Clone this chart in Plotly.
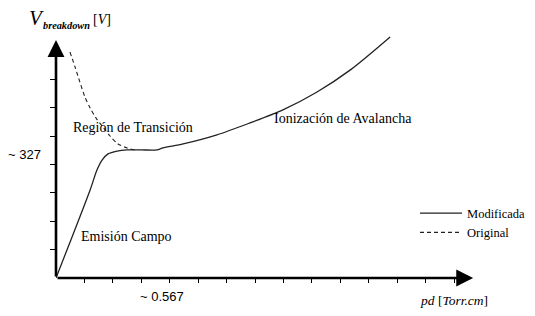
import plotly.graph_objects as go

# Schematic units: one unit = one tick interval on each axis
pd_mod = [0, 1.20, 1.44, 1.62, 1.83, 2.15, 2.50, 3.00, 3.55, 3.76, 4.47, 5.66, 6.82, 7.98, 9.18, 10.34, 11.75]
v_mod = [0, 3.10, 3.80, 4.15, 4.37, 4.47, 4.51, 4.51, 4.51, 4.58, 4.72, 5.04, 5.46, 5.92, 6.55, 7.32, 8.49]

pd_orig = [0.49, 0.67, 0.84, 1.02, 1.20, 1.41, 1.65, 1.90, 2.18, 2.50, 2.78]
v_orig = [7.96, 7.43, 6.90, 6.37, 5.99, 5.63, 5.32, 5.00, 4.72, 4.58, 4.51]

x_ticks = list(range(1, 15))
y_ticks = list(range(1, 8))

SERIF = "Liberation Serif, Times New Roman, serif"
SANS = "Liberation Sans, Arial, sans-serif"

fig = go.Figure()
fig.add_trace(go.Scatter(x=pd_mod, y=v_mod, mode="lines", name="Modificada",
                         line=dict(color="#222", width=1.3, shape="spline", smoothing=0.8)))
fig.add_trace(go.Scatter(x=pd_orig, y=v_orig, mode="lines", name="Original",
                         line=dict(color="#222", width=1.1, dash="4px,3px", shape="spline", smoothing=0.8)))

x_tip, y_tip = 14.67, 8.38
ann = []
# axes arrows
ann.append(dict(x=x_tip, y=0, ax=0, ay=0, xref="x", yref="y", axref="x", ayref="y", text="",
                showarrow=True, arrowhead=2, arrowsize=1.3, arrowwidth=2.6, arrowcolor="black",
                standoff=0, startstandoff=0))
ann.append(dict(x=0, y=y_tip, ax=0, ay=0, xref="x", yref="y", axref="x", ayref="y", text="",
                showarrow=True, arrowhead=2, arrowsize=1.3, arrowwidth=2.6, arrowcolor="black",
                standoff=0, startstandoff=0))

def txt(x, y, s, font, size, xanchor="center", pad=1):
    ann.append(dict(x=x, y=y, xref="paper", yref="paper", text=s, showarrow=False,
                    xanchor=xanchor, yanchor="middle", borderpad=pad,
                    font=dict(family=font, size=size, color="black")))

txt(0.1726, 0.585, "Región de Transición", SERIF, 14)
txt(0.6381, 0.620, "Ionización de Avalancha", SERIF, 14)
txt(0.1570, 0.159, "Emisión Campo", SERIF, 14)
txt(-0.0702, 0.477, "~ 327", SANS, 13)
txt(0.236, -0.0698, "~ 0.567", SANS, 13)
txt(0.886, -0.0853, "<i>pd</i> [<i>Torr.cm</i>]", SERIF, 13.5)
# axis title V_breakdown [V], split in pieces
txt(-0.0624, 1.0075, "<i>V</i>", SERIF, 21, xanchor="left", pad=0)
txt(-0.0345, 0.977, "<b><i>breakdown</i></b>", SERIF, 10.3, xanchor="left")
txt(0.078, 1.0016, "[<i>V</i>]", SERIF, 14, xanchor="left")

# page body adds an 8px offset; compensate in size and margins
fig.update_layout(
    width=535, height=300,
    margin=dict(l=48, r=38, t=12, b=30, autoexpand=False),
    plot_bgcolor="white", paper_bgcolor="white",
    xaxis=dict(range=[0, 15.79], showgrid=False, zeroline=False, showline=False,
               tickvals=x_ticks, ticks="outside", ticklen=4, tickwidth=1.2, tickcolor="black",
               showticklabels=False, fixedrange=True),
    yaxis=dict(range=[0, 9.085], showgrid=False, zeroline=False, showline=False,
               tickvals=y_ticks, ticks="outside", ticklen=5, tickwidth=1.2, tickcolor="black",
               showticklabels=False, fixedrange=True),
    showlegend=True,
    legend=dict(x=0.7996, y=0.308, xanchor="left", yanchor="top", bgcolor="rgba(0,0,0,0)",
                font=dict(family=SERIF, size=12.5, color="black"), itemwidth=42,
                tracegroupgap=0),
    annotations=ann,
)

fig.write_html("out.html")
